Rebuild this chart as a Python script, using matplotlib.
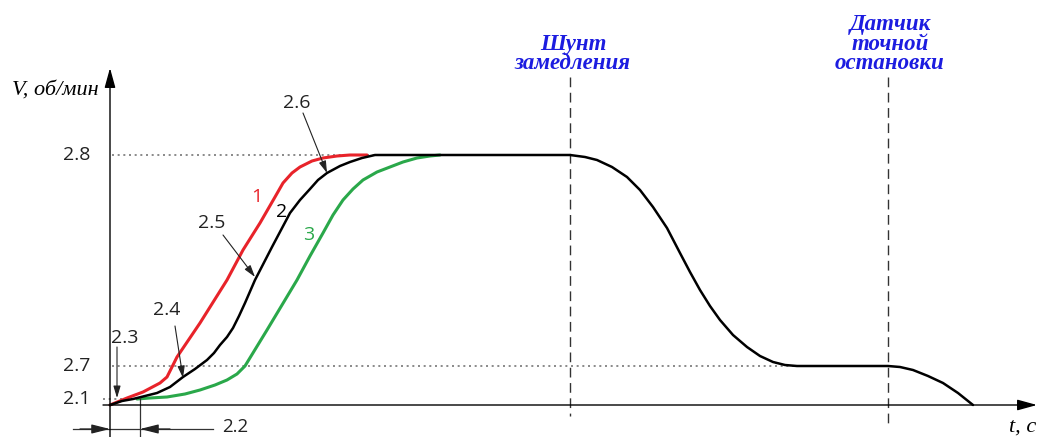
import matplotlib.pyplot as plt

# Speed levels (chart units from the origin)
v_high = 250     # 2.8
v_creep = 39     # 2.7
v_start = 6      # 2.1
t_shunt = 460    # deceleration shunt
t_stop = 778     # exact stop sensor

# Curve 2 (black): acceleration, plateau, deceleration, creep, stop
t2 = [0, 12, 23, 35, 47, 60, 73, 85, 97, 104, 110, 117, 123, 129, 135, 145, 162, 180, 190, 200, 208, 217,
      230, 240, 252, 265,
      460, 475, 487, 502, 517, 530, 543, 557, 570, 580, 590, 600, 610, 623, 637, 650, 663, 675, 687,
      778, 790, 803, 818, 833, 848, 863]
v2 = [0, 4, 6, 9, 12, 18, 28, 36, 45, 52, 60, 68, 77, 89, 102, 125, 158, 192, 205, 216, 225, 232,
      239, 243, 247, 250,
      250, 248, 245, 238, 228, 215, 198, 177, 152, 133, 115, 99, 85, 70, 58, 49, 43, 40, 39,
      39, 38, 35, 29, 22, 12, 0]

# Curve 1 (red)
t1 = [0, 17, 33, 50, 57, 67, 90, 117, 133, 150, 165, 173, 182, 190, 202, 213, 227, 240, 257]
v1 = [0, 7, 13, 22, 28, 48, 82, 125, 155, 182, 208, 222, 232, 238, 244, 247, 249, 250, 250]

# Curve 3 (green)
t3 = [27, 40, 57, 75, 90, 105, 117, 127, 135, 146, 157, 172, 187, 200, 213, 223, 233, 243, 253,
      267, 280, 293, 307, 320, 330]
v3 = [6, 7, 8, 11, 15, 20, 25, 31, 39, 57, 75, 100, 125, 149, 172, 190, 205, 216, 225,
      233, 238, 243, 247, 249, 250]

level_labels = ['2.8', '2.7', '2.1']
level_values = [v_high, v_creep, v_start]

fig = plt.figure(figsize=(10.4, 4.37), dpi=100)
ax = fig.add_axes([0, 0, 1, 1])
ax.set_xlim(-110, 930)
ax.set_ylim(-32, 405)
ax.axis('off')

num_font = dict(family='Open Sans', fontsize=14, color='#222222')
serif_it = dict(family='Liberation Serif', style='italic')
blue_font = dict(family='Liberation Serif', style='italic', weight='bold', fontsize=16.5, color='#1c1ce0')

# axes with arrows
head = '-|>,head_length=0.8,head_width=0.22'
ax.annotate('', xy=(0, 337), xytext=(0, -32),
            arrowprops=dict(arrowstyle=head, lw=1, color='black', mutation_scale=15, shrinkA=0, shrinkB=0))
ax.annotate('', xy=(927, 0), xytext=(-7, 0),
            arrowprops=dict(arrowstyle=head, lw=1, color='black', mutation_scale=15, shrinkA=0, shrinkB=0))
ax.text(-55, 315, 'V, об/мин', ha='center', va='center', fontsize=16, **serif_it)
ax.text(913, -22, 't, c', ha='center', va='center', fontsize=16, **serif_it)

# dotted reference levels
dot = dict(color='#777777', lw=1.2, linestyle=(0, (1.2, 2.2)))
ax.plot([2, t_shunt], [v_high, v_high], **dot)
ax.plot([2, 687], [v_creep, v_creep], **dot)
ax.plot([-7, 15], [v_start, v_start], **dot)
for lab, val in zip(level_labels, level_values):
    ax.text(-33, val, lab, ha='center', va='center', **num_font)

# dashed sensor lines
dash = dict(color='#333333', lw=1, linestyle=(0, (7, 4)))
ax.plot([t_shunt, t_shunt], [328, -11], **dash)
ax.plot([t_stop, t_stop], [328, -20], **dash)
ax.text(463, 351, 'Шунт\nзамедления', ha='center', va='center', linespacing=0.9, **blue_font)
ax.text(780, 361, 'Датчик\nточной\nостановки', ha='center', va='center', linespacing=0.9, **blue_font)

# speed curves
ax.plot(t3, v3, color='#2aa84a', lw=2.2, solid_joinstyle='round', solid_capstyle='round')
ax.plot(t1, v1, color='#e8232a', lw=2.2, solid_joinstyle='round', solid_capstyle='round')
ax.plot(t2, v2, color='black', lw=1.8, solid_joinstyle='round', solid_capstyle='round')

ax.text(147, 208, '1', color='#e8232a', ha='center', va='center', fontsize=14, family='Open Sans')
ax.text(172, 193, '2', color='black', ha='center', va='center', fontsize=14, family='Open Sans')
ax.text(199, 170, '3', color='#2aa84a', ha='center', va='center', fontsize=14, family='Open Sans')

# callouts
small = dict(arrowstyle='-|>,head_length=0.6,head_width=0.18', lw=0.8, color='#222222',
             mutation_scale=12, shrinkA=0, shrinkB=0)
callouts = [('2.3', (15, 67), (7, 58), (7, 7)),
            ('2.4', (57, 95), (65, 79), (73, 27)),
            ('2.5', (102, 182), (113, 170), (145, 128)),
            ('2.6', (187, 302), (193, 292), (217, 232))]
for lab, pos, start, end in callouts:
    ax.text(pos[0], pos[1], lab, ha='center', va='center', **num_font)
    ax.annotate('', xy=end, xytext=start, arrowprops=small)

# start delay dimension (2.2)
dim = dict(arrowstyle='-|>,head_length=0.8,head_width=0.2', lw=0.9, color='#222222',
           mutation_scale=14, shrinkA=0, shrinkB=0)
ax.plot([30, 30], [7, -32], color='#333333', lw=0.9)
ax.plot([-37, 103], [-24, -24], color='#333333', lw=0.9)
ax.annotate('', xy=(0, -24), xytext=(-30, -24), arrowprops=dim)
ax.annotate('', xy=(30, -24), xytext=(60, -24), arrowprops=dim)
ax.text(125, -22, '2.2', ha='center', va='center', family='Open Sans', fontsize=13.5, color='#222222')

plt.savefig('out.png', dpi=100)
